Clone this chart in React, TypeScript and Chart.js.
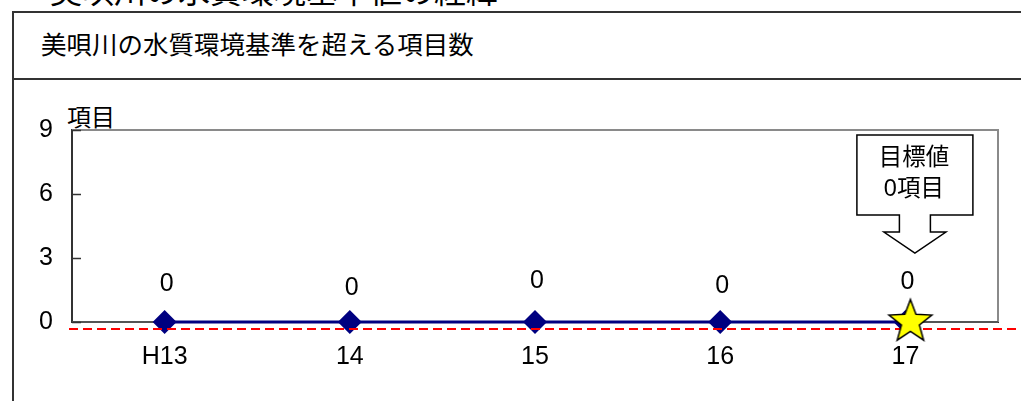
import React, { useEffect, useRef } from 'react';
import { Chart, registerables } from 'chart.js';

Chart.register(...registerables);

// ---- data ----
const categories = ['H13', '14', '15', '16', '17'];
const exceedCounts = [0, 0, 0, 0, 0];
const targetValue = 0;
const yMin = 0;
const yMax = 9;
const yStep = 3;
const headingText = '美唄川の水質環境基準値の経緯';
const chartTitle = '美唄川の水質環境基準を超える項目数';
const yAxisTitle = '項目';
const calloutLines = ['目標値', '0項目'];

// ---- styles ----
const LATIN = "'Liberation Sans', 'Noto Sans CJK JP', sans-serif";
const CJK = "'Noto Sans CJK JP', sans-serif";
const labelLifts = [38, 34, 41, 36, 40];

function makeStar(R: number, dx: number): HTMLCanvasElement {
  const c = document.createElement('canvas');
  const half = Math.ceil(R + Math.abs(dx) + 3);
  c.width = half * 2;
  c.height = half * 2;
  const ctx = c.getContext('2d') as CanvasRenderingContext2D;
  const cx = half + dx;
  const cy = half;
  ctx.beginPath();
  for (let i = 0; i < 10; i++) {
    const r = i % 2 === 0 ? R : R * 0.42;
    const a = -Math.PI / 2 + (i * Math.PI) / 5;
    const x = cx + r * Math.cos(a);
    const y = cy + r * Math.sin(a);
    if (i === 0) ctx.moveTo(x, y);
    else ctx.lineTo(x, y);
  }
  ctx.closePath();
  ctx.fillStyle = '#FFFF00';
  ctx.fill();
  ctx.lineWidth = 1.5;
  ctx.strokeStyle = '#000000';
  ctx.stroke();
  return c;
}

const decorPlugin = {
  id: 'decor',
  beforeDatasetsDraw(chart: any) {
    const { ctx, chartArea } = chart;
    const { left, right, top, bottom } = chartArea;
    ctx.save();
    ctx.strokeStyle = '#8a8a8a';
    ctx.lineWidth = 2;
    ctx.beginPath();
    ctx.moveTo(left, top);
    ctx.lineTo(right, top);
    ctx.lineTo(right, bottom);
    ctx.stroke();
    ctx.strokeStyle = '#555';
    ctx.beginPath();
    ctx.moveTo(left, bottom);
    ctx.lineTo(right, bottom);
    ctx.stroke();
    const yScale = chart.scales.y;
    ctx.strokeStyle = '#333';
    ctx.lineWidth = 1.5;
    yScale.ticks.forEach((t: any) => {
      const y = Math.round(yScale.getPixelForValue(t.value)) + 0.5;
      ctx.beginPath();
      ctx.moveTo(left, y);
      ctx.lineTo(left + 9, y);
      ctx.stroke();
    });
    ctx.restore();
  },
  afterDatasetDraw(chart: any, args: any) {
    if (args.index !== 1) return;
    const { ctx, chartArea } = chart;
    const y = chart.scales.y.getPixelForValue(targetValue) + 7;
    ctx.save();
    ctx.strokeStyle = '#FF0000';
    ctx.lineWidth = 2;
    ctx.setLineDash([9, 5]);
    ctx.beginPath();
    ctx.moveTo(chartArea.left - 3, y);
    ctx.lineTo(chart.width, y);
    ctx.stroke();
    ctx.restore();
  },
  afterDatasetsDraw(chart: any) {
    const { ctx } = chart;
    const meta = chart.getDatasetMeta(1);
    ctx.save();
    ctx.fillStyle = '#000';
    ctx.font = `25px ${LATIN}`;
    ctx.textAlign = 'center';
    ctx.textBaseline = 'middle';
    meta.data.forEach((pt: any, i: number) => {
      ctx.fillText(String(exceedCounts[i]), pt.x + 2, pt.y - labelLifts[i]);
    });
    ctx.restore();
  },
  afterDraw(chart: any) {
    const { ctx, chartArea } = chart;
    const ax = chart.scales.x.getPixelForValue(categories.length - 1);
    const cx = ax + 9.5;
    const top = chartArea.top + 5;
    const bodyBottom = top + 80;
    const shaftBottom = top + 97;
    const tipY = top + 118;
    const halfBox = 58;
    const halfShaft = 15.5;
    const halfHead = 31;
    ctx.save();
    ctx.beginPath();
    ctx.moveTo(cx - halfBox, top);
    ctx.lineTo(cx + halfBox, top);
    ctx.lineTo(cx + halfBox, bodyBottom);
    ctx.lineTo(cx + halfShaft, bodyBottom);
    ctx.lineTo(cx + halfShaft, shaftBottom);
    ctx.lineTo(cx + halfHead, shaftBottom);
    ctx.lineTo(cx, tipY);
    ctx.lineTo(cx - halfHead, shaftBottom);
    ctx.lineTo(cx - halfShaft, shaftBottom);
    ctx.lineTo(cx - halfShaft, bodyBottom);
    ctx.lineTo(cx - halfBox, bodyBottom);
    ctx.closePath();
    ctx.fillStyle = '#fff';
    ctx.fill();
    ctx.strokeStyle = '#000';
    ctx.lineWidth = 1.5;
    ctx.stroke();
    ctx.fillStyle = '#000';
    ctx.font = `23.5px ${LATIN}`;
    ctx.textAlign = 'center';
    ctx.textBaseline = 'middle';
    ctx.fillText(calloutLines[0], cx - 1, top + 24);
    ctx.fillText(calloutLines[1], cx - 1, top + 55);
    ctx.restore();
  },
};

function ChartCanvas() {
  const ref = useRef<HTMLCanvasElement | null>(null);
  useEffect(() => {
    if (!ref.current) return;
    const star = makeStar(22.5, 5);
    const last = exceedCounts.length - 1;
    const chart = new Chart(ref.current, {
      type: 'line',
      data: {
        labels: categories,
        datasets: [
          {
            label: '目標',
            data: exceedCounts.map((v, i) => (i === last ? v : null)),
            showLine: false,
            pointStyle: star as any,
            pointRadius: 22,
            clip: false as any,
          },
          {
            label: '項目数',
            data: exceedCounts,
            borderColor: '#000080',
            backgroundColor: '#000080',
            borderWidth: 3,
            pointStyle: 'rectRot',
            pointRadius: 12,
            pointBorderWidth: 0,
            pointBackgroundColor: '#000080',
            pointBorderColor: '#000080',
            clip: false as any,
          },
        ],
      },
      options: {
        animation: false,
        responsive: false,
        maintainAspectRatio: false,
        events: [],
        layout: { padding: { top: 130, right: 18, bottom: 0, left: 0 } },
        plugins: {
          legend: { display: false },
          tooltip: { enabled: false },
          title: { display: false },
        },
        scales: {
          x: {
            type: 'category',
            offset: true,
            grid: { display: false, drawTicks: false },
            border: { display: true, color: '#333', width: 2 },
            ticks: {
              padding: 20,
              color: '#000',
              font: { family: LATIN, size: 25 },
              maxRotation: 0,
              autoSkip: false,
            },
            afterFit: (scale: any) => {
              scale.height = 79;
            },
          },
          y: {
            min: yMin,
            max: yMax,
            grid: { display: false, drawTicks: false },
            border: { display: true, color: '#333', width: 2 },
            ticks: {
              stepSize: yStep,
              padding: 19,
              color: '#000',
              font: { family: LATIN, size: 25 },
            },
            afterFit: (scale: any) => {
              scale.width = 72;
            },
          },
        },
      },
      plugins: [decorPlugin],
    });
    return () => chart.destroy();
  }, []);
  return (
    <canvas
      ref={ref}
      width={1021}
      height={401}
      style={{ position: 'absolute', left: 0, top: 0, width: 1021, height: 401 }}
    />
  );
}

export default function App() {
  return (
    <div
      style={{
        position: 'fixed',
        left: 0,
        top: 0,
        width: 1021,
        height: 401,
        overflow: 'hidden',
        background: '#fff',
      }}
    >
      <div
        style={{
          position: 'absolute',
          left: 50,
          top: -27,
          fontFamily: CJK,
          fontSize: 32,
          lineHeight: '32px',
          whiteSpace: 'nowrap',
          color: '#000',
        }}
      >
        {headingText}
      </div>
      <div
        style={{
          position: 'absolute',
          left: 12,
          top: 11,
          width: 1100,
          height: 69,
          border: '2px solid #333',
          boxSizing: 'border-box',
        }}
      />
      <div
        style={{
          position: 'absolute',
          left: 41,
          top: 30,
          fontFamily: CJK,
          fontSize: 25.5,
          lineHeight: '26px',
          whiteSpace: 'nowrap',
          color: '#000',
        }}
      >
        {chartTitle}
      </div>
      <div
        style={{
          position: 'absolute',
          left: 12,
          top: 78,
          width: 2,
          height: 330,
          background: '#333',
        }}
      />
      <div
        style={{
          position: 'absolute',
          left: 67,
          top: 104,
          fontFamily: CJK,
          fontSize: 24,
          lineHeight: '24px',
          whiteSpace: 'nowrap',
          color: '#000',
        }}
      >
        {yAxisTitle}
      </div>
      <ChartCanvas />
    </div>
  );
}
